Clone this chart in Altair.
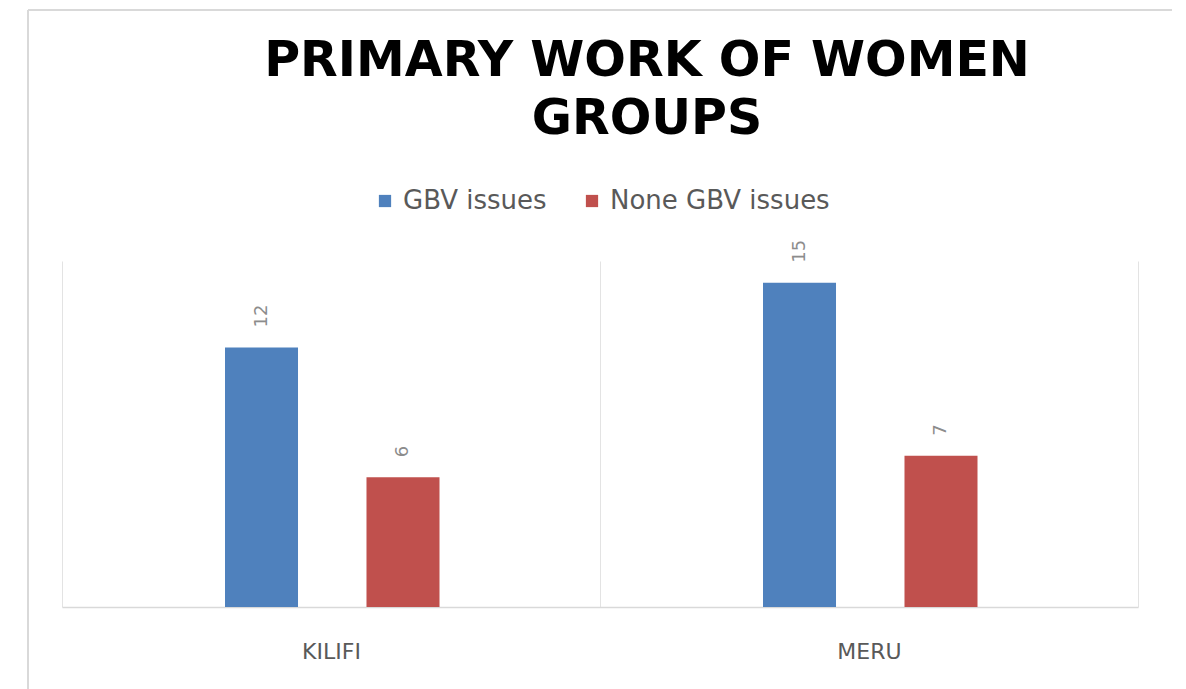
import altair as alt
import pandas as pd

# Counts of women groups by primary focus, per county
regions = ["KILIFI", "MERU"]
series = ["GBV issues", "None GBV issues"]
gbv_counts = [12, 15]
non_gbv_counts = [6, 7]
colors = ["#4f81bd", "#c0504d"]

rows = []
for i, region in enumerate(regions):
    rows.append({"region": region, "series": series[0], "count": gbv_counts[i]})
    rows.append({"region": region, "series": series[1], "count": non_gbv_counts[i]})
df = pd.DataFrame(rows)

W, H = 1076, 346
PAD_L, PAD_T = 62, 261

base = alt.Chart(df).encode(
    x=alt.X(
        "region:N",
        sort=regions,
        title=None,
        scale=alt.Scale(paddingInner=0, paddingOuter=0),
        axis=alt.Axis(
            labelAngle=0,
            labelFont="DejaVu Sans",
            labelFontSize=22,
            labelColor="#595959",
            labelPadding=34,
            ticks=False,
            domainColor="#d9d9d9",
            domainWidth=1.5,
            grid=True,
            gridColor="#e3e3e3",
            tickBand="extent",
        ),
    ),
    # the two series sit side by side in the middle part of each county band
    xOffset=alt.XOffset(
        "series:N",
        sort=series,
        scale=alt.Scale(range=[163, 377.5], paddingInner=0.484, paddingOuter=0),
    ),
    y=alt.Y("count:Q", scale=alt.Scale(domain=[0, 16]), axis=None),
)

bars = base.mark_bar().encode(
    color=alt.Color(
        "series:N",
        sort=series,
        scale=alt.Scale(domain=series, range=colors),
        legend=alt.Legend(
            title=None,
            orient="none",
            legendX=310,
            legendY=-73,
            direction="horizontal",
            symbolType="square",
            symbolSize=150,
            symbolStrokeWidth=0,
            labelFont="DejaVu Sans",
            labelFontSize=26,
            labelColor="#595959",
            labelOffset=5,
            labelLimit=0,
            columnPadding=32,
        ),
    )
)

value_labels = base.mark_text(
    angle=270,
    align="left",
    baseline="middle",
    dx=20,
    font="DejaVu Sans",
    fontSize=18,
    color="#8c8c8c",
).encode(text="count:Q")

# Light frame around the whole chart (top and left edges)
frame_src = alt.Chart(pd.DataFrame({"k": [0]}))
frame_top = frame_src.mark_rule(color="#d9d9d9", strokeWidth=2).encode(
    x=alt.value(28 - PAD_L), x2=alt.value(1172 - PAD_L), y=alt.value(10 - PAD_T)
)
frame_left = frame_src.mark_rule(color="#d9d9d9", strokeWidth=2).encode(
    x=alt.value(28 - PAD_L), y=alt.value(10 - PAD_T), y2=alt.value(689 - PAD_T)
)

chart = (
    alt.layer(frame_top, frame_left, bars, value_labels)
    .properties(
        width=W,
        height=H,
        padding={"left": PAD_L, "top": PAD_T, "right": 1186 - PAD_L - W, "bottom": 689 - PAD_T - H},
        autosize=alt.AutoSizeParams(type="none"),
        title=alt.TitleParams(
            ["PRIMARY WORK OF WOMEN", "GROUPS"],
            font="DejaVu Sans",
            fontSize=49,
            fontWeight="bold",
            color="#000000",
            anchor="middle",
            frame="group",
            dx=47,
            offset=-135,
            lineHeight=58,
        ),
    )
    .configure(background="white", view=alt.ViewConfig(stroke=None))
)

chart.save("out.html", embed_options={"renderer": "svg", "actions": False})
